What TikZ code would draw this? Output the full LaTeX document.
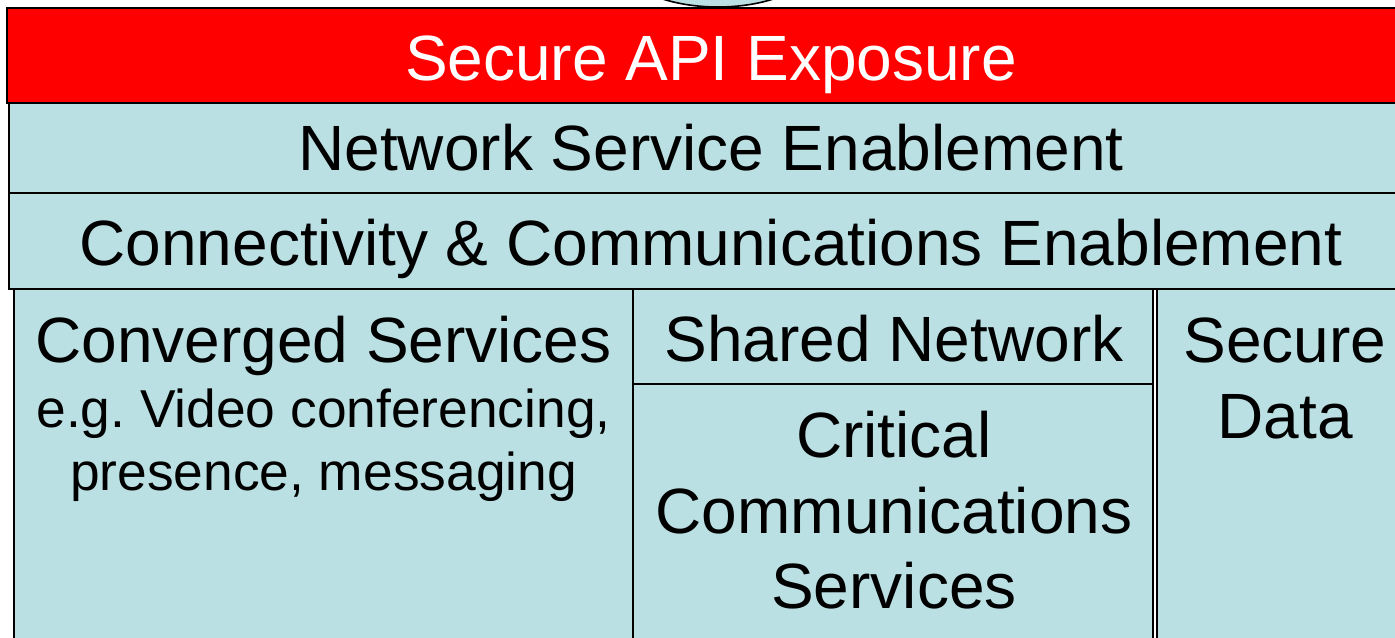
\documentclass[tikz,border=0pt]{standalone}
\usepackage{fontspec}
\setmainfont{Liberation Sans}
\definecolor{lblue}{HTML}{BBE0E3}
\definecolor{pred}{HTML}{FF0000}
\begin{document}
\frenchspacing
\begin{tikzpicture}[x=0.75pt,y=-0.75pt,
  box/.style={draw=black,line width=1.2pt,fill=lblue},
  redbox/.style={draw=black,line width=1.2pt,fill=pred},
  big/.style={anchor=base,font=\fontsize{48}{56}\selectfont,inner sep=0pt},
  small/.style={anchor=base,font=\fontsize{40}{46}\selectfont,inner sep=0pt}]
\useasboundingbox (0,0) rectangle (1395,637);
\begin{scope}
\clip (0,0) rectangle (1395,637);
\fill[white] (0,0) rectangle (1395,637);
% top ellipse (partly visible)
\path[box] (718,-41) ellipse [x radius=100, y radius=48];
% layers
\path[redbox] (7,8) rectangle (1413,103);
\path[box] (9,103) rectangle (1413,193);
\path[box] (9,193) rectangle (1413,289);
% bottom row
\path[box] (14,289) rectangle (633,660);
\path[box] (633,289) rectangle (1153,384);
\path[box] (633,384) rectangle (1153,660);
\path[box] (1157,289) rectangle (1413,660);
\end{scope}
% texts
\node[big, text=white] (t1) at (711,80) {Secure API Exposure};
\node[big] (t2) at (711,170) {Network Service Enablement};
\node[big] (t3) at (711,265) {Connectivity \& Communications Enablement};
\node[big] (c1) at (323.5,362) {Converged Services};
\node[small] (c2) at (323.5,427) {e.g.\ Video conferencing,};
\node[small] (c3) at (323.5,490) {presence, messaging};
\node[big] (s1) at (894,361) {Shared Network};
\node[big] (k1) at (894,457) {Critical};
\node[big] (k2) at (894,533) {Communications};
\node[big] (k3) at (894,608) {Services};
\node[big] (d1) at (1285,362) {Secure};
\node[big] (d2) at (1285,438) {Data};
\end{tikzpicture}
\end{document}
